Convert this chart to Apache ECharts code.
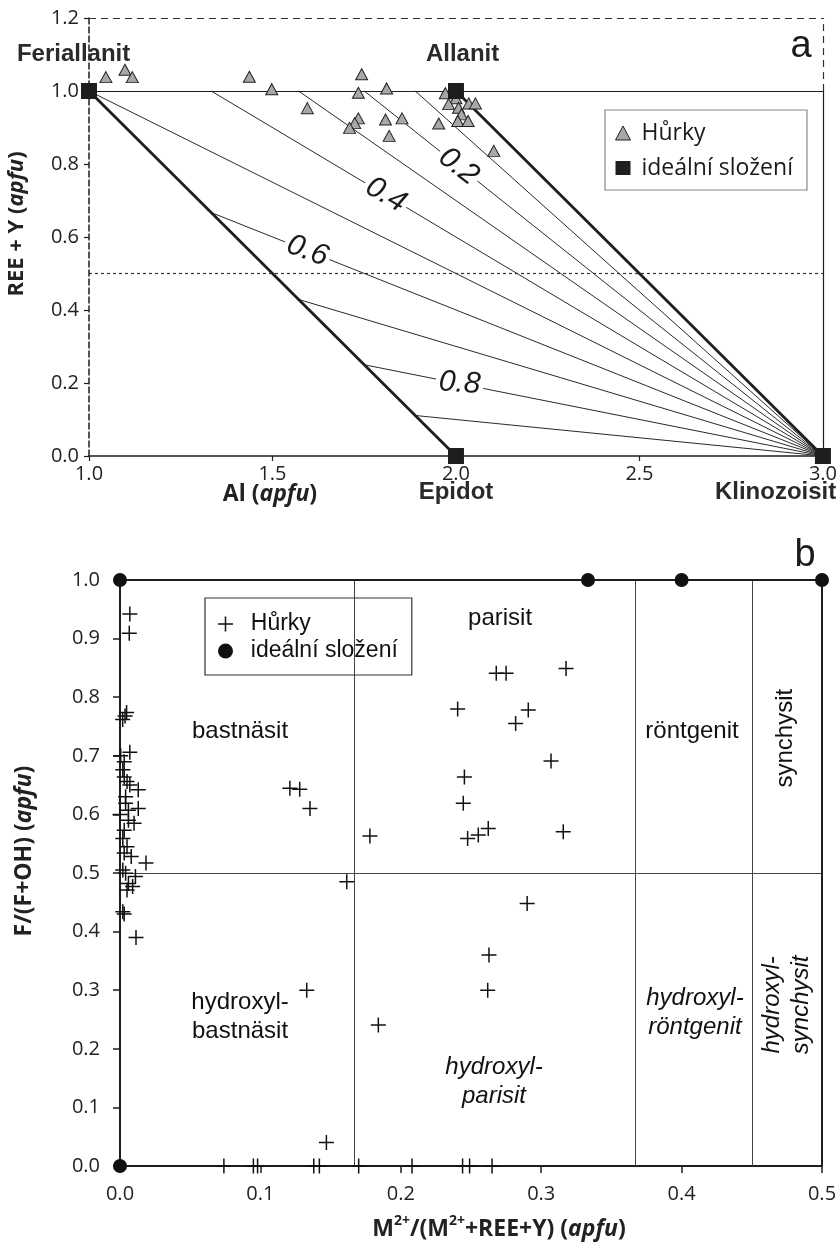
<!DOCTYPE html>
<html>
<head>
<meta charset="utf-8">
<script src="https://cdn.jsdelivr.net/npm/echarts@6/dist/echarts.min.js"></script>
<style>
  html, body { margin: 0; background: #fff; }
  #chart { width: 840px; height: 1247px; }
</style>
</head>
<body>
<div id="chart"></div>
<script>
// ---- panel a: Al vs REE+Y ----
const hurkyA = [
  [1.046, 1.038], [1.098, 1.058], [1.118, 1.038], [1.437, 1.039], [1.498, 1.005],
  [1.595, 0.953], [1.743, 1.046], [1.734, 0.995], [1.811, 1.007], [1.734, 0.925],
  [1.724, 0.912], [1.710, 0.899], [1.808, 0.922], [1.853, 0.925], [1.818, 0.877],
  [1.953, 0.911], [1.971, 0.994], [2.000, 0.980], [1.980, 0.964], [2.007, 0.954],
  [2.035, 0.966], [2.053, 0.966], [2.015, 0.936], [2.005, 0.918], [2.033, 0.918],
  [2.103, 0.836]
];
const idealA = [[1, 1], [2, 1], [2, 0], [3, 0]];
const fanOrigin = [3, 0];
const fanEnds = [
  [1.889, 1], [1.75, 1], [1.571, 1], [1.333, 1], [1, 1],
  [1.333, 0.667], [1.571, 0.429], [1.75, 0.25], [1.889, 0.111]
];
const edgesA = [[[1, 1], [2, 0]], [[2, 1], [3, 0]]];
const contourText = ['0.2', '0.4', '0.6', '0.8'];
const contourPos = [[2.007, 0.793], [1.809, 0.715], [1.595, 0.562], [2.01, 0.199]];
const contourAngle = [-38, -30, -20, -4];
const endMembers = ['Feriallanit', 'Allanit', 'Epidot', 'Klinozoisit'];
const endMemberPos = [[0.958, 1.099], [2.018, 1.099], [2.0, -0.101], [2.871, -0.101]];

// ---- panel b: M2+/(M2+ + REE+Y) vs F/(F+OH) ----
const hurkyB = [
  [0.007, 0.942], [0.0066, 0.909], [0.0047, 0.774], [0.0036, 0.768], [0.0019, 0.762],
  [0.007, 0.706], [0.0005, 0.700], [0.003, 0.690], [0.002, 0.676], [0.003, 0.664],
  [0.005, 0.656], [0.007, 0.650], [0.013, 0.642], [0.004, 0.630], [0.004, 0.619],
  [0.013, 0.610], [0.006, 0.607], [0.0, 0.600], [0.006, 0.590], [0.010, 0.585],
  [0.003, 0.573], [0.002, 0.559], [0.005, 0.545], [0.003, 0.534], [0.008, 0.528],
  [0.0185, 0.517], [0.002, 0.505], [0.004, 0.4995], [0.011, 0.494], [0.006, 0.482],
  [0.009, 0.477], [0.005, 0.471], [0.002, 0.434], [0.003, 0.430], [0.0114, 0.390],
  [0.121, 0.6445], [0.128, 0.643], [0.1353, 0.610], [0.178, 0.563], [0.1615, 0.485],
  [0.268, 0.841], [0.275, 0.841], [0.3177, 0.849], [0.2405, 0.780], [0.2908, 0.778],
  [0.2818, 0.755], [0.307, 0.691], [0.2453, 0.664], [0.2445, 0.619], [0.2476, 0.559],
  [0.2552, 0.565], [0.2623, 0.576], [0.3157, 0.5705], [0.290, 0.448], [0.2628, 0.360],
  [0.2619, 0.300], [0.133, 0.300], [0.184, 0.2406], [0.147, 0.040],
  [0.074, 0], [0.095, 0], [0.098, 0], [0.138, 0], [0.142, 0],
  [0.170, 0], [0.208, 0], [0.244, 0], [0.249, 0], [0.265, 0]
];
const idealB = [[0, 1], [0, 0], [1 / 3, 1], [0.4, 1], [0.5, 1]];
const fieldBoundsX = [0.1667, 0.3667, 0.45];
const fieldNames = [
  'bastnäsit', 'parisit', 'röntgenit', 'synchysit',
  'hydroxyl-\nbastnäsit', 'hydroxyl-\nparisit', 'hydroxyl-\nröntgenit', 'hydroxyl-\nsynchysit'
];
const fieldPos = [
  [0.0855, 0.742], [0.2707, 0.935], [0.4074, 0.741], [0.4736, 0.730],
  [0.0855, 0.254], [0.2664, 0.143], [0.4095, 0.261], [0.475, 0.275]
];
const italicFields = [5, 6, 7];
const rotatedFields = [3, 7];

const SANS = '"Open Sans", "DejaVu Sans", sans-serif';
const ARIAL = '"Liberation Sans", Arial, sans-serif';
const CROSS = 'path://M7.2,0h1.6v16h-1.6zM0,7.2h16v1.6h-16z';
const INK = '#1e1e1e';

const chart = echarts.init(document.getElementById('chart'));

function axisCommon(extra) {
  return Object.assign({
    type: 'value',
    splitLine: { show: false },
    axisTick: { show: true, inside: false, length: 5, lineStyle: { color: INK, width: 1.2 } },
    axisLabel: {
      color: '#222', fontFamily: SANS, fontSize: 20,
      formatter: (v) => v.toFixed(1)
    }
  }, extra);
}

function seg(list) {
  return list.map((c) => ({ coords: c }));
}

function titleText(x, y, rotated, parts, size) {
  const base = { fontFamily: SANS, fontWeight: 'bold', fontSize: size, fill: '#222', color: '#222', lineHeight: size + 6 };
  return {
    type: 'text', x: x, y: y, rotation: rotated ? Math.PI / 2 : 0, z: 50,
    style: {
      text: parts,
      align: 'center', verticalAlign: 'middle',
      textAlign: 'center', textVerticalAlign: 'middle',
      rich: {
        b: base,
        i: Object.assign({}, base, { fontStyle: 'italic' }),
        s: Object.assign({}, base, { fontSize: Math.round(size * 0.62), verticalAlign: 'top', lineHeight: size + 6 })
      }
    }
  };
}

chart.setOption({
  animation: false,
  backgroundColor: '#fff',
  grid: [
    { left: 89, top: 18, width: 736, height: 438 },
    { left: 120, top: 580, width: 702, height: 586 }
  ],
  xAxis: [
    axisCommon({
      gridIndex: 0, min: 1, max: 3, interval: 0.5,
      axisLine: { lineStyle: { color: INK, width: 1.5 } },
      axisLabel: { color: '#222', fontFamily: SANS, fontSize: 20, margin: 8, formatter: (v) => v.toFixed(1) }
    }),
    axisCommon({
      gridIndex: 1, min: 0, max: 0.5, interval: 0.1,
      axisLine: { lineStyle: { color: INK, width: 2 } },
      axisTick: { length: 7, lineStyle: { color: INK, width: 1.5 } },
      axisLabel: { color: '#222', fontFamily: SANS, fontSize: 20, margin: 18, formatter: (v) => v.toFixed(1) }
    })
  ],
  yAxis: [
    axisCommon({
      gridIndex: 0, min: 0, max: 1.2, interval: 0.2,
      axisLine: { lineStyle: { color: INK, width: 1.5, type: [6, 3] } },
      axisLabel: { color: '#222', fontFamily: SANS, fontSize: 20, margin: 10, formatter: (v) => v.toFixed(1) }
    }),
    axisCommon({
      gridIndex: 1, min: 0, max: 1, interval: 0.1,
      axisLine: { lineStyle: { color: INK, width: 2 } },
      axisTick: { length: 7, lineStyle: { color: INK, width: 1.5 } },
      axisLabel: { color: '#222', fontFamily: SANS, fontSize: 20, margin: 20, formatter: (v) => v.toFixed(1) }
    })
  ],
  legend: [
    {
      orient: 'vertical', left: 605, top: 110, selectedMode: false,
      padding: [10, 14, 9, 10], itemGap: 9, itemWidth: 15, itemHeight: 14,
      borderColor: '#888', borderWidth: 1.2,
      formatter: (n) => ' ' + n,
      textStyle: { fontFamily: SANS, fontSize: 23, color: '#1a1a1a', lineHeight: 26 },
      data: [
        { name: 'Hůrky', icon: 'triangle', itemStyle: { color: '#a8a8a8', borderColor: '#222', borderWidth: 1 } },
        { name: 'ideální složení', icon: 'rect', itemStyle: { color: INK, borderWidth: 0 } }
      ]
    },
    {
      orient: 'vertical', left: 205, top: 598, selectedMode: false,
      padding: [14, 14, 12, 13], itemGap: 3, itemWidth: 15, itemHeight: 15,
      borderColor: '#333', borderWidth: 1.2,
      formatter: (n) => '  ' + n,
      textStyle: { fontFamily: ARIAL, fontSize: 23, color: '#111', lineHeight: 24 },
      data: [
        { name: 'Hůrky', icon: CROSS, itemStyle: { color: '#111', borderWidth: 0 } },
        { name: 'ideální složení', icon: 'circle', itemStyle: { color: '#111', borderWidth: 0 } }
      ]
    }
  ],
  graphic: [
    titleText(17, 224, true, '{b|REE + Y (}{i|apfu}{b|)}', 22),
    titleText(270, 494, false, '{b|Al (}{i|apfu}{b|)}', 23),
    titleText(24, 851, true, '{b|F/(F+OH) (}{i|apfu}{b|)}', 23),
    titleText(499, 1229, false, '{b|M}{s|2+}{b|/(M}{s|2+}{b|+REE+Y) (}{i|apfu}{b|)}', 23),
    {
      type: 'text', x: 801, y: 47, z: 50,
      style: { text: 'a', fontFamily: ARIAL, fontSize: 38, fill: '#1a1a1a', align: 'center', verticalAlign: 'middle', textAlign: 'center', textVerticalAlign: 'middle' }
    },
    {
      type: 'text', x: 805, y: 556, z: 50,
      style: { text: 'b', fontFamily: ARIAL, fontSize: 38, fill: '#1a1a1a', align: 'center', verticalAlign: 'middle', textAlign: 'center', textVerticalAlign: 'middle' }
    }
  ],
  series: [
    // panel a construction lines
    {
      type: 'lines', coordinateSystem: 'cartesian2d', xAxisIndex: 0, yAxisIndex: 0, silent: true, clip: false, z: 1,
      lineStyle: { color: '#2a2a2a', width: 1, opacity: 1 },
      data: seg(fanEnds.map((e) => [fanOrigin, e]))
    },
    {
      type: 'lines', coordinateSystem: 'cartesian2d', xAxisIndex: 0, yAxisIndex: 0, silent: true, clip: false, z: 2,
      lineStyle: { color: INK, width: 2.8, opacity: 1 },
      data: seg(edgesA)
    },
    {
      type: 'lines', coordinateSystem: 'cartesian2d', xAxisIndex: 0, yAxisIndex: 0, silent: true, clip: false, z: 2,
      lineStyle: { color: INK, width: 1.2, opacity: 1 },
      data: seg([[[1, 1], [3, 1]], [[3, 0], [3, 1]]])
    },
    {
      type: 'lines', coordinateSystem: 'cartesian2d', xAxisIndex: 0, yAxisIndex: 0, silent: true, clip: false, z: 2,
      lineStyle: { color: '#333', width: 1.2, type: [7, 5], opacity: 1 },
      data: seg([[[1, 1.2], [3, 1.2]], [[3, 1], [3, 1.2]]])
    },
    {
      type: 'lines', coordinateSystem: 'cartesian2d', xAxisIndex: 0, yAxisIndex: 0, silent: true, clip: false, z: 2,
      lineStyle: { color: '#333', width: 1.2, type: [3, 3], opacity: 1 },
      data: seg([[[1, 0.5], [3, 0.5]]])
    },
    {
      type: 'scatter', xAxisIndex: 0, yAxisIndex: 0, silent: true, clip: false, z: 6,
      symbolSize: 0, itemStyle: { opacity: 1 },
      label: {
        show: true, position: 'inside', formatter: (p) => p.name,
        fontFamily: ARIAL, fontStyle: 'italic', fontSize: 30, color: '#1a1a1a',
        backgroundColor: '#fff', padding: [0, 3]
      },
      data: contourText.map((t, i) => ({ name: t, value: contourPos[i], label: { rotate: contourAngle[i] } }))
    },
    {
      name: 'Hůrky', type: 'scatter', xAxisIndex: 0, yAxisIndex: 0, clip: false, z: 8,
      symbol: 'triangle', symbolSize: [12, 11],
      itemStyle: { color: '#a8a8a8', borderColor: '#222', borderWidth: 1, opacity: 1 },
      data: hurkyA
    },
    {
      name: 'ideální složení', type: 'scatter', xAxisIndex: 0, yAxisIndex: 0, clip: false, z: 9,
      symbol: 'rect', symbolSize: 16,
      itemStyle: { color: INK, opacity: 1 },
      data: idealA
    },
    {
      type: 'scatter', xAxisIndex: 0, yAxisIndex: 0, silent: true, clip: false, z: 10,
      symbolSize: 0, itemStyle: { opacity: 1 },
      label: {
        show: true, position: 'inside', formatter: (p) => p.name,
        fontFamily: ARIAL, fontWeight: 'bold', fontSize: 24, color: '#2a2a2a'
      },
      data: endMembers.map((t, i) => ({ name: t, value: endMemberPos[i] }))
    },
    // panel b field boundaries
    {
      type: 'lines', coordinateSystem: 'cartesian2d', xAxisIndex: 1, yAxisIndex: 1, silent: true, clip: false, z: 1,
      lineStyle: { color: '#444', width: 1, opacity: 1 },
      data: seg(fieldBoundsX.map((x) => [[x, 0], [x, 1]]).concat([[[0, 0.5], [0.5, 0.5]]]))
    },
    {
      type: 'lines', coordinateSystem: 'cartesian2d', xAxisIndex: 1, yAxisIndex: 1, silent: true, clip: false, z: 2,
      lineStyle: { color: INK, width: 2, opacity: 1 },
      data: seg([[[0, 1], [0.5, 1]], [[0.5, 0], [0.5, 1]]])
    },
    {
      type: 'scatter', xAxisIndex: 1, yAxisIndex: 1, silent: true, clip: false, z: 6,
      symbolSize: 0, itemStyle: { opacity: 1 },
      data: fieldNames.map((t, i) => ({
        name: t, value: fieldPos[i],
        label: {
          show: true, position: 'inside', formatter: (p) => p.name,
          fontFamily: ARIAL, fontSize: 24, lineHeight: 29, color: '#111', align: 'center',
          fontStyle: italicFields.includes(i) ? 'italic' : 'normal',
          rotate: rotatedFields.includes(i) ? 90 : 0
        }
      }))
    },
    {
      name: 'Hůrky', type: 'scatter', xAxisIndex: 1, yAxisIndex: 1, clip: false, z: 8,
      symbol: CROSS, symbolSize: 15,
      itemStyle: { color: '#111', borderWidth: 0, opacity: 1 },
      data: hurkyB
    },
    {
      name: 'ideální složení', type: 'scatter', xAxisIndex: 1, yAxisIndex: 1, clip: false, z: 9,
      symbol: 'circle', symbolSize: 14,
      itemStyle: { color: '#111', opacity: 1 },
      data: idealB
    }
  ]
});
</script>
</body>
</html>
